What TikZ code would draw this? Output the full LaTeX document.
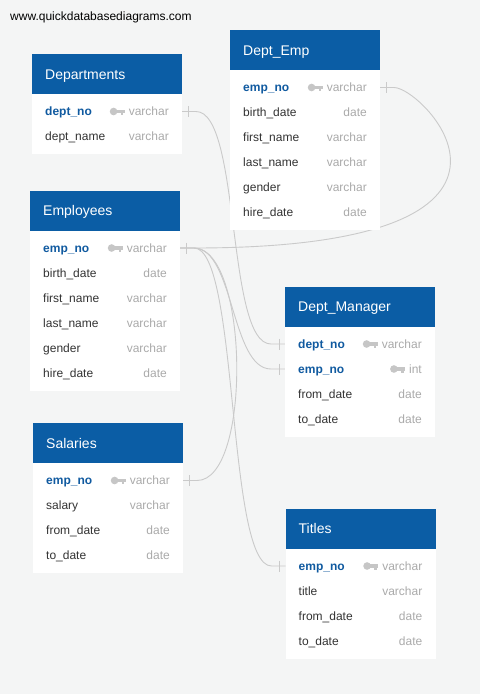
\documentclass[tikz,border=0pt]{standalone}
\usepackage{fontspec}
\setmainfont{Liberation Sans}
\definecolor{bgc}{RGB}{244,245,245}
\definecolor{hdr}{RGB}{11,93,165}
\definecolor{pkc}{RGB}{16,90,160}
\definecolor{namec}{RGB}{51,51,51}
\definecolor{typec}{RGB}{170,170,170}
\definecolor{keyc}{RGB}{198,198,198}
\definecolor{relc}{RGB}{202,202,202}
\pgfdeclarelayer{back}
\pgfdeclarelayer{links}
\pgfsetlayers{back,links,main}
\tikzset{
  hdrtext/.style={anchor=base west, text=white, font=\fontsize{14}{16}\selectfont, inner sep=0pt},
  fname/.style={anchor=base west, text=namec, font=\fontsize{12}{14}\selectfont, inner sep=0pt},
  pkname/.style={anchor=base west, text=pkc, font=\fontsize{12}{14}\selectfont\bfseries, inner sep=0pt},
  ftype/.style={anchor=base east, text=typec, font=\fontsize{12}{14}\selectfont, inner sep=0pt},
  urltext/.style={anchor=base west, text=black, font=\fontsize{12}{14}\selectfont, inner sep=0pt},
  rel/.style={draw=relc, line width=0.9pt},
  keyicon/.pic={
    \fill[keyc] (-11,0) circle (3.8);
    \fill[keyc] (-9,-2) rectangle (0,1.6);
    \fill[keyc] (-4,0) rectangle (-1.2,3.6);
  }
}
\newcommand{\dbtable}[6]{%
  \fill[white] (#2,#3+40) rectangle (#2+150,#3+50+25*#5);
  \fill[hdr] (#2,#3) rectangle (#2+150,#3+40);
  \node[hdrtext] (#1-t) at (#2+13,#3+25) {#4};
  \foreach \fn/\ft/\pk [count=\i] in {#6} {
    \pgfmathsetmacro\ry{#3+32.5+25*\i}
    \coordinate (#1-c\i) at (#2+75,\ry);
    \coordinate (#1-L\i) at (#2,\ry);
    \coordinate (#1-R\i) at (#2+150,\ry);
    \coordinate (#1-Ls\i) at (#2-14,\ry);
    \coordinate (#1-Rs\i) at (#2+164,\ry);
    \coordinate (#1-Lt\i) at (#2-6,\ry);
    \coordinate (#1-Rt\i) at (#2+156,\ry);
    \node[ftype] (#1-y\i) at (#2+137,\ry+4.3) {\ft};
    \ifnum\pk=1
      \node[pkname] (#1-n\i) at (#2+13,\ry+4.3) {\fn};
      \path (#1-y\i.west |- #1-c\i) ++(-4,0) pic {keyicon};
    \else
      \node[fname] (#1-n\i) at (#2+13,\ry+4.3) {\fn};
    \fi
  }
}
\newcommand{\reltick}[1]{\draw[rel] ([yshift=5.5pt]#1) -- ([yshift=-5.5pt]#1);}
\begin{document}
\begin{tikzpicture}[x=1pt,y=-1pt]
\begin{pgfonlayer}{back}
  \fill[bgc] (0,0) rectangle (480,694);
\end{pgfonlayer}
\useasboundingbox (0,0) rectangle (480,694);
\node[urltext] (url) at (10,20.5) {www.quickdatabasediagrams.com};

\dbtable{Dep}{32}{54}{Departments}{2}{dept\_no/varchar/1, dept\_name/varchar/0}
\dbtable{DE}{230}{30}{Dept\_Emp}{6}{emp\_no/varchar/1, birth\_date/date/0, first\_name/varchar/0, last\_name/varchar/0, gender/varchar/0, hire\_date/date/0}
\dbtable{Emp}{30}{190.5}{Employees}{6}{emp\_no/varchar/1, birth\_date/date/0, first\_name/varchar/0, last\_name/varchar/0, gender/varchar/0, hire\_date/date/0}
\dbtable{Sal}{33}{423}{Salaries}{4}{emp\_no/varchar/1, salary/varchar/0, from\_date/date/0, to\_date/date/0}
\dbtable{DM}{285}{286.5}{Dept\_Manager}{4}{dept\_no/varchar/1, emp\_no/int/1, from\_date/date/0, to\_date/date/0}
\dbtable{Tit}{285.5}{508.5}{Titles}{4}{emp\_no/varchar/1, title/varchar/0, from\_date/date/0, to\_date/date/0}

\begin{pgfonlayer}{links}
  \draw[rel] (Dep-R1) -- (Dep-Rs1) .. controls +(45,0) and +(-45,0) .. (DM-Ls1) -- (DM-L1);
  \draw[rel] (Emp-R1) -- (Emp-Rs1) .. controls +(386,0) and +(30,0) .. (DE-Rs1) -- (DE-R1);
  \draw[rel] (Emp-R1) -- (Emp-Rs1) .. controls +(40,0) and +(-40,0) .. (DM-Ls2) -- (DM-L2);
  \draw[rel] (Emp-R1) -- (Emp-Rs1) .. controls +(55,0) and +(55,0) .. (Sal-Rs1) -- (Sal-R1);
  \draw[rel] (Emp-R1) -- (Emp-Rs1) .. controls +(45,0) and +(-45,0) .. (Tit-Ls1) -- (Tit-L1);
  \reltick{Dep-Rt1}
  \reltick{DE-Rt1}
  \reltick{Emp-Rt1}
  \reltick{Sal-Rt1}
  \reltick{DM-Lt1}
  \reltick{DM-Lt2}
  \reltick{Tit-Lt1}
\end{pgfonlayer}
\end{tikzpicture}
\end{document}
